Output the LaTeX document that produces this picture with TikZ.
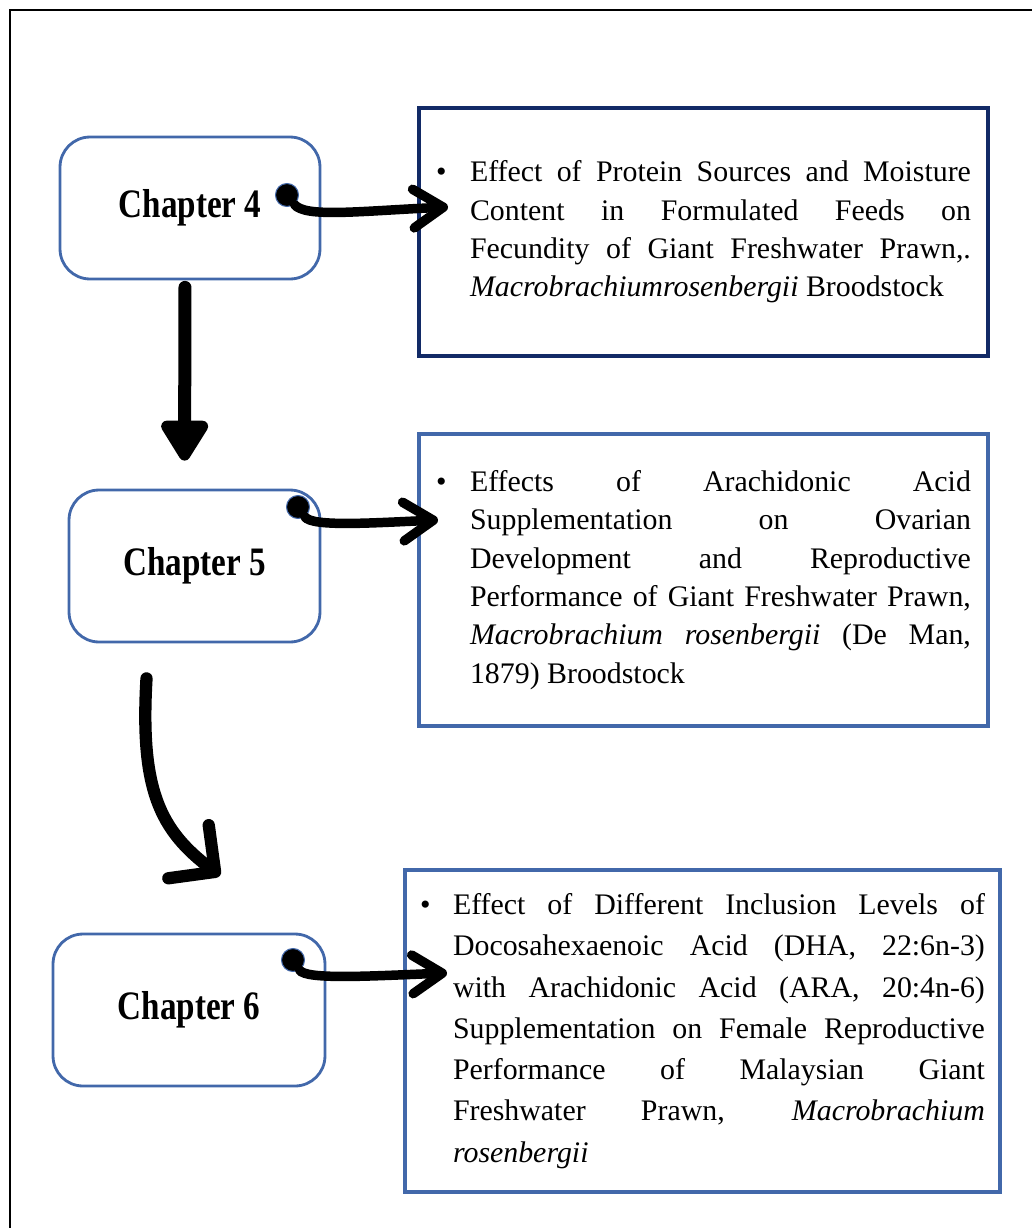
\documentclass[tikz,border=0pt]{standalone}
\usepackage{fontspec}
\setmainfont{Liberation Serif}
\newfontfamily\chapfont[FakeStretch=0.82]{Liberation Serif}
\usetikzlibrary{arrows.meta}

\definecolor{boxblue}{RGB}{66,104,170}
\definecolor{navyblue}{RGB}{18,42,102}
% bullet item with hanging text, justified
\newcommand{\topic}[3]{\parbox{#1}{\leftskip=#2\noindent\llap{\makebox[#2][l]{\textbullet}}#3}}

\tikzset{
	chapbox/.style={draw=boxblue, line width=1.6pt, rounded corners=0.6cm, font=\chapfont\bfseries\fontsize{23}{26}\selectfont},
	textbox/.style={draw=boxblue, line width=2.6pt, font=\fontsize{17}{21.8}\selectfont},
	chapdot/.style={circle, fill=black, draw=boxblue, line width=0.6pt, minimum size=0.46cm, inner sep=0pt},
	sidearrow/.style={line width=5.4pt, line cap=round, -{Straight Barb[length=17pt, width=22pt, round]}},
	downarrow/.style={line width=7.4pt, line cap=round, -{Triangle[length=26pt, width=30pt, round]}},
	bendarrow/.style={line width=7pt, line cap=round, -{Straight Barb[length=19pt, width=38pt, round]}}
}

\begin{document}
\begin{tikzpicture}[x=0.02cm, y=-0.02cm]
	\useasboundingbox (0,0) rectangle (1032,1228);
	% outer frame
	\draw[line width=1.6pt] (10,1228) -- (10,10) -- (1032,10);

	% chapters
	\node[chapbox, minimum width=5.2cm, minimum height=2.84cm] (ch4) at (190,208) {Chapter 4};
	\node[chapbox, minimum width=5.02cm, minimum height=3.04cm] (ch5) at (194.5,566) {Chapter 5};
	\node[chapbox, minimum width=5.44cm, minimum height=3.04cm] (ch6) at (189,1010) {Chapter 6};

	% topics
	\node[textbox, draw=navyblue, inner xsep=0.34cm, minimum height=4.96cm] (t4) at (703.5,232) {\topic{10.7cm}{0.68cm}{Effect of Protein Sources and Moisture\linebreak
		Content in Formulated Feeds on\linebreak
		Fecundity of Giant Freshwater Prawn,.\linebreak
		\textit{Macrobrachiumrosenbergii} Broodstock}};
	\node[textbox, inner xsep=0.34cm, minimum height=5.84cm] (t5) at (703.5,580) {\topic{10.7cm}{0.68cm}{Effects of Arachidonic Acid\linebreak
		Supplementation on Ovarian\linebreak
		Development and Reproductive\linebreak
		Performance of Giant Freshwater Prawn,\linebreak
		\textit{Macrobrachium rosenbergii} (De Man,\linebreak
		1879) Broodstock}};
	\node[textbox, inner xsep=0.3cm, minimum height=6.44cm, font=\fontsize{17}{23.5}\selectfont] (t6) at (702.5,1031) {\topic{11.3cm}{0.66cm}{Effect of Different Inclusion Levels of\linebreak
		Docosahexaenoic Acid (DHA, 22:6n-3)\linebreak
		with Arachidonic Acid (ARA, 20:4n-6)\linebreak
		Supplementation on Female Reproductive\linebreak
		Performance of Malaysian Giant\linebreak
		Freshwater Prawn, \textit{Macrobrachium}\linebreak
		\textit{rosenbergii}}};

	% links to topics
	\node[chapdot] (d4) at (287,195) {};
	\node[chapdot] (d5) at (298,507) {};
	\node[chapdot] (d6) at (293,960) {};
	\coordinate (tip4) at (448,207);
	\coordinate (tip5) at (438,520);
	\coordinate (tip6) at (447,973);
	\draw[sidearrow] (d4) .. controls (305,218) and (360,211) .. (tip4);
	\draw[sidearrow] (d5) .. controls (312,527) and (370,523) .. (tip5);
	\draw[sidearrow] (d6) .. controls (306,980) and (370,976) .. (tip6);

	% chapter order
	\draw[downarrow, shorten <=0.14cm, shorten >=0.56cm] ([xshift=-0.1cm]ch4.south) -- ([xshift=-0.2cm]ch5.north);
	\draw[bendarrow] ([shift={(-48,35)}]ch5.south) .. controls (140,790) and (160,830) .. ([shift={(31,-57)}]ch6.north);
\end{tikzpicture}
\end{document}
